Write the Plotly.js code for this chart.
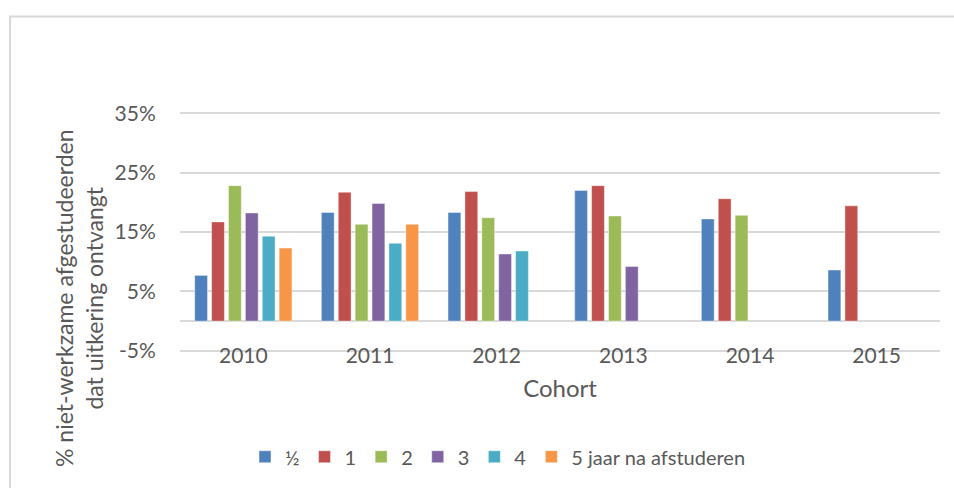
<!DOCTYPE html>
<html>
<head>
<meta charset="utf-8">
<script src="https://cdn.plot.ly/plotly-3.0.1.min.js"></script>
<style>html,body{margin:0;padding:0;background:#fff;}#chart{width:954px;height:488px;}</style>
</head>
<body>
<div id="chart"></div>
<script>
// Data (percent)
const cohorts = ['2010', '2011', '2012', '2013', '2014', '2015'];
const seriesNames = ['½', '1', '2', '3', '4', '5 jaar na afstuderen'];
const half  = [7.7, 18.3, 18.3, 22.0, 17.2, 8.6];
const one   = [16.7, 21.7, 21.8, 22.8, 20.6, 19.4];
const two   = [22.8, 16.3, 17.4, 17.7, 17.8, null];
const three = [18.2, 19.8, 11.3, 9.2, null, null];
const four  = [14.3, 13.1, 11.8, null, null, null];
const five  = [12.3, 16.3, null, null, null, null];
const yTicks = [-5, 5, 15, 25, 35];

const colors = ['#4F81BD', '#C0504D', '#9BBB59', '#8064A2', '#4BACC6', '#F79646'];
const allSeries = [half, one, two, three, four, five];

const FONT = 'Lato, "Open Sans", sans-serif';
const GREY = '#595959';

const traces = allSeries.map((vals, i) => ({
  type: 'bar',
  name: seriesNames[i],
  x: cohorts,
  y: vals,
  marker: {color: colors[i], line: {color: 'rgba(255,255,255,0.55)', width: 0.8}},
  hoverinfo: 'x+y+name'
}));

// plot area in px: y range [-5.2, 35.2] -> 6.1 px per %
const W = 954, H = 488;
const L = 180, R = 940;
const PPU = 6.1;
const yMin = -5.2, yMax = 35.2;
const T = Math.round(113 - (yMax - 35) * PPU);
const B = T + (yMax - yMin) * PPU;
const px2x = p => (p - L) / (R - L);
const px2y = p => (B - p) / (B - T);

const layout = {
  width: W, height: H,
  margin: {l: L, r: W - R, t: T, b: H - B, pad: 0},
  paper_bgcolor: '#ffffff',
  plot_bgcolor: '#ffffff',
  font: {family: FONT, color: GREY, size: 21},
  barmode: 'group',
  bargap: 0.2,
  bargroupgap: 0.24,
  showlegend: true,
  legend: {
    orientation: 'h',
    x: px2x(245), xanchor: 'left',
    y: px2y(466), yanchor: 'middle',
    font: {family: FONT, size: 20, color: GREY},
    itemwidth: 30,
    traceorder: 'normal',
    bgcolor: 'rgba(0,0,0,0)'
  },
  xaxis: {
    type: 'category',
    anchor: 'free',
    position: px2y(347),
    showline: false,
    showgrid: false,
    zeroline: false,
    ticks: '',
    tickfont: {family: FONT, size: 21, color: GREY},
    title: {text: 'Cohort', font: {family: FONT, size: 24, color: GREY}, standoff: 14},
    automargin: false,
    fixedrange: true
  },
  yaxis: {
    range: [yMin, yMax],
    tickvals: yTicks,
    ticktext: yTicks.map(v => v + '%'),
    showgrid: true,
    gridcolor: '#D9D9D9',
    gridwidth: 1.5,
    zeroline: true,
    zerolinecolor: '#D9D9D9',
    zerolinewidth: 2,
    showline: false,
    ticks: 'outside',
    ticklen: 19,
    tickcolor: 'rgba(0,0,0,0)',
    tickfont: {family: FONT, size: 21, color: GREY},
    automargin: false,
    fixedrange: true
  },
  annotations: [{
    text: '% niet-werkzame afgestudeerden<br>dat uitkering ontvangt',
    xref: 'paper', yref: 'paper',
    x: px2x(79), y: px2y(303),
    xanchor: 'center', yanchor: 'middle',
    textangle: -90,
    showarrow: false,
    font: {family: FONT, size: 23, color: GREY}
  }],
  shapes: [{
    type: 'rect', xref: 'paper', yref: 'paper',
    x0: px2x(10), x1: px2x(970),
    y0: px2y(500), y1: px2y(14),
    line: {color: '#D9D9D9', width: 2},
    fillcolor: 'rgba(0,0,0,0)',
    layer: 'below'
  }]
};

Plotly.newPlot('chart', traces, layout, {displayModeBar: false});
</script>
</body>
</html>
